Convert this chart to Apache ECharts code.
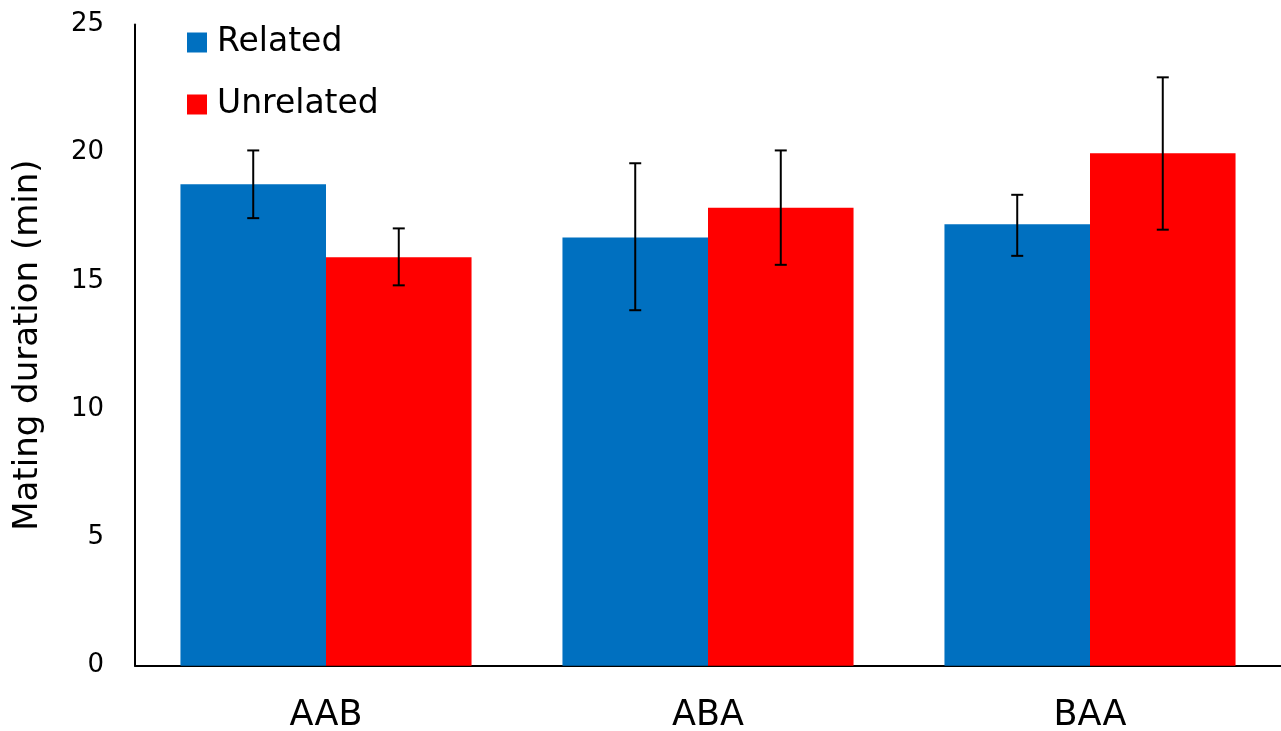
<!DOCTYPE html>
<html>
<head>
<meta charset="utf-8">
<script src="https://cdn.jsdelivr.net/npm/echarts@6/dist/echarts.min.js"></script>
<style>
html,body{margin:0;padding:0;background:#fff;}
#c{width:1281px;height:731px;}
</style>
</head>
<body>
<div id="c"></div>
<script>
const categories = ['AAB', 'ABA', 'BAA'];
const seriesNames = ['Related', 'Unrelated'];
const relatedMean = [18.77, 16.70, 17.21];
const relatedLow = [17.45, 13.86, 15.98];
const relatedHigh = [20.09, 19.59, 18.36];
const unrelatedMean = [15.93, 17.86, 19.98];
const unrelatedLow = [14.83, 15.63, 17.00];
const unrelatedHigh = [17.05, 20.09, 22.94];
const yTicks = [0, 5, 10, 15, 20, 25];

const FONT = 'DejaVu Sans';
const CAT_GAP = 0.238;

function errData(low, high) {
  return categories.map((c, i) => [i, low[i], high[i]]);
}

function errRender(offsetSign) {
  return function (params, api) {
    const idx = api.value(0);
    const lowPt = api.coord([idx, api.value(1)]);
    const highPt = api.coord([idx, api.value(2)]);
    const band = api.size([1, 0])[0];
    const bw = band * (1 - CAT_GAP) / 2;
    const x = lowPt[0] + offsetSign * bw / 2;
    const cap = 6;
    const style = { stroke: '#000', lineWidth: 2 };
    return {
      type: 'group',
      children: [
        { type: 'line', shape: { x1: x, y1: lowPt[1], x2: x, y2: highPt[1] }, style: style },
        { type: 'line', shape: { x1: x - cap, y1: lowPt[1], x2: x + cap, y2: lowPt[1] }, style: style },
        { type: 'line', shape: { x1: x - cap, y1: highPt[1], x2: x + cap, y2: highPt[1] }, style: style }
      ]
    };
  };
}

const chart = echarts.init(document.getElementById('c'));
chart.setOption({
  animation: false,
  backgroundColor: '#fff',
  grid: { left: 135, right: 0, top: 24.5, bottom: 65.3, containLabel: false, outerBoundsMode: 'none' },
  legend: {
    data: seriesNames,
    orient: 'vertical',
    left: 182,
    top: 21,
    itemWidth: 20,
    itemHeight: 20,
    itemGap: 29,
    icon: 'rect',
    textStyle: { fontFamily: FONT, fontSize: 33, color: '#000', padding: [0, 0, 0, 5] }
  },
  xAxis: {
    type: 'category',
    data: categories,
    axisLine: { show: true, lineStyle: { color: '#000', width: 2 } },
    axisTick: { show: false },
    axisLabel: { color: '#000', fontFamily: FONT, fontSize: 35, margin: 33 },
    splitLine: { show: false }
  },
  yAxis: {
    type: 'value',
    min: yTicks[0],
    max: yTicks[yTicks.length - 1],
    interval: 5,
    name: 'Mating duration (min)',
    nameLocation: 'middle',
    nameGap: 90,
    nameTextStyle: { color: '#000', fontFamily: FONT, fontSize: 34 },
    axisLine: { show: true, lineStyle: { color: '#000', width: 2 } },
    axisTick: { show: false },
    axisLabel: { color: '#000', fontFamily: FONT, fontSize: 26, margin: 31, padding: [6, 0, 0, 0] },
    splitLine: { show: false }
  },
  series: [
    {
      name: seriesNames[0], type: 'bar', data: relatedMean,
      barGap: '0%', barCategoryGap: (CAT_GAP * 100) + '%',
      itemStyle: { color: '#0070C0' }
    },
    {
      name: seriesNames[1], type: 'bar', data: unrelatedMean,
      barGap: '0%', barCategoryGap: (CAT_GAP * 100) + '%',
      itemStyle: { color: '#FF0000' }
    },
    {
      type: 'custom', name: 'errR', data: errData(relatedLow, relatedHigh),
      renderItem: errRender(-1), encode: { x: 0, y: [1, 2] }, z: 5, silent: true
    },
    {
      type: 'custom', name: 'errU', data: errData(unrelatedLow, unrelatedHigh),
      renderItem: errRender(1), encode: { x: 0, y: [1, 2] }, z: 5, silent: true
    }
  ]
});
</script>
</body>
</html>
